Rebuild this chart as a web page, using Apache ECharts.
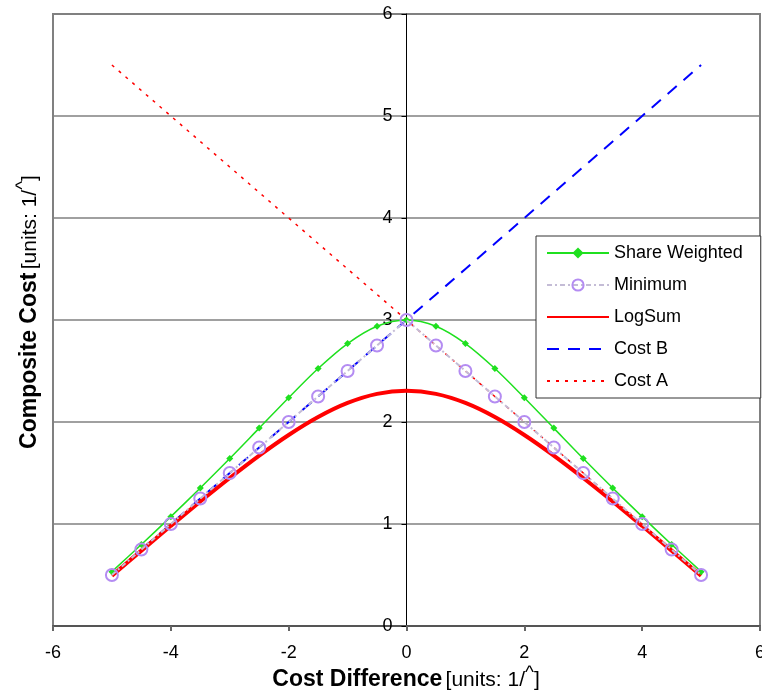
<!DOCTYPE html>
<html>
<head>
<meta charset="utf-8">
<script src="https://cdn.jsdelivr.net/npm/echarts@6/dist/echarts.min.js"></script>
<style>html,body{margin:0;padding:0;background:#fff;overflow:hidden;}#c{width:762px;height:692px;}</style>
</head>
<body>
<div id="c"></div>
<script>
var xs = [-5,-4.5,-4,-3.5,-3,-2.5,-2,-1.5,-1,-0.5,0,0.5,1,1.5,2,2.5,3,3.5,4,4.5,5];
var shareWeighted = [0.533,0.799,1.072,1.353,1.642,1.940,2.238,2.524,2.769,2.939,3.0,2.939,2.769,2.524,2.238,1.940,1.642,1.353,1.072,0.799,0.533];
var minimum = [0.5,0.75,1,1.25,1.5,1.75,2,2.25,2.5,2.75,3,2.75,2.5,2.25,2,1.75,1.5,1.25,1,0.75,0.5];
var logSum = [0.493,0.739,0.982,1.220,1.451,1.671,1.873,2.049,2.187,2.276,2.307,2.276,2.187,2.049,1.873,1.671,1.451,1.220,0.982,0.739,0.493];
var costB = [0.5,0.75,1,1.25,1.5,1.75,2,2.25,2.5,2.75,3,3.25,3.5,3.75,4,4.25,4.5,4.75,5,5.25,5.5];
var costA = [5.5,5.25,5,4.75,4.5,4.25,4,3.75,3.5,3.25,3,2.75,2.5,2.25,2,1.75,1.5,1.25,1,0.75,0.5];
var xTicks = [-6,-4,-2,0,2,4,6];
var yTicks = [0,1,2,3,4,5,6];

function pairs(ys){ return xs.map(function(x,i){ return [x, ys[i]]; }); }

var FONT = '"Liberation Sans", Arial, sans-serif';
var W = 762, H = 692, GL = 53, GR = 2;
var chart = echarts.init(document.getElementById('c'), null, {renderer:'canvas', width: W, height: H});
var plotW = W - GL - GR;
var zeroOffset = -plotW * (0 - xTicks[0]) / (xTicks[xTicks.length-1] - xTicks[0]);
chart.setOption({
  animation: false,
  backgroundColor: '#fff',
  grid: {left: GL, right: GR, top: 14, bottom: 66, show: true, borderColor: '#808080', borderWidth: 2,
         backgroundColor: 'transparent', containLabel: false, outerBoundsMode: 'none'},
  xAxis: {
    type: 'value', min: xTicks[0], max: xTicks[xTicks.length-1], interval: 2,
    axisLine: {show: true, onZero: false, lineStyle: {color: '#555', width: 2}},
    axisTick: {show: true, length: 5, lineStyle: {color: '#666', width: 2}},
    axisLabel: {fontFamily: FONT, fontSize: 18, color: '#000', margin: 18},
    splitLine: {show: false}
  },
  yAxis: {
    type: 'value', min: yTicks[0], max: yTicks[yTicks.length-1], interval: 1,
    position: 'left', offset: zeroOffset,
    axisLine: {show: true, onZero: false, lineStyle: {color: '#000', width: 1}},
    axisTick: {show: true, length: 5, lineStyle: {color: '#000', width: 1}},
    axisLabel: {fontFamily: FONT, fontSize: 18, color: '#000', margin: 14},
    splitLine: {show: true, lineStyle: {color: '#808080', width: 1.5}}
  },
  legend: {
    orient: 'vertical', left: 536, top: 236,
    padding: [8, 18, 8, 10],
    itemWidth: 62, itemHeight: 14, itemGap: 14,
    backgroundColor: '#fff', borderColor: '#333', borderWidth: 1,
    textStyle: {fontFamily: FONT, fontSize: 18, color: '#000'},
    data: [
      {name: 'Share Weighted'},
      {name: 'Minimum'},
      {name: 'LogSum', itemStyle: {opacity: 0}},
      {name: 'Cost B', itemStyle: {opacity: 0}},
      {name: 'Cost A', itemStyle: {opacity: 0}}
    ]
  },
  series: [
    {name: 'Share Weighted', type: 'line', data: pairs(shareWeighted), smooth: 0.3, z: 4,
     symbol: 'diamond', symbolSize: 7, itemStyle: {color: '#1fe01f'},
     lineStyle: {color: '#1fe01f', width: 1.5}},
    {name: 'Minimum', type: 'line', data: pairs(minimum), z: 5,
     symbol: 'circle', symbolSize: 12,
     itemStyle: {color: 'rgba(255,255,255,0)', borderColor: '#b48cf2', borderWidth: 2},
     lineStyle: {color: '#c4bcd6', width: 2, type: [5,3,2,3]}},
    {name: 'LogSum', type: 'line', data: pairs(logSum), smooth: 0.3, z: 3,
     symbol: 'none', itemStyle: {color: '#ff0000'},
     lineStyle: {color: '#ff0000', width: 4}},
    {name: 'Cost B', type: 'line', data: pairs(costB), z: 2,
     symbol: 'none', itemStyle: {color: '#0000ff'},
     lineStyle: {color: '#0000ff', width: 2, type: [12,9]}},
    {name: 'Cost A', type: 'line', data: pairs(costA), z: 2,
     symbol: 'none', itemStyle: {color: '#ff0000'},
     lineStyle: {color: '#ff0000', width: 1.5, type: [3,6]}}
  ],
  graphic: [
    {type: 'text', x: 406, y: 680, z: 10,
     style: {text: '{b|Cost Difference} {n|[units: 1/}{s|^}{n|]}', align: 'center', verticalAlign: 'middle',
       rich: {
         b: {fontFamily: FONT, fontSize: 23, fontWeight: 'bold', fill: '#000'},
         n: {fontFamily: FONT, fontSize: 21, fill: '#000'},
         s: {fontFamily: FONT, fontSize: 19, fill: '#000', padding: [0,0,14,0]}
       }}},
    {type: 'text', x: 30, y: 312, rotation: Math.PI/2, z: 10,
     style: {text: '{b|Composite Cost} {n|[units: 1/}{s|^}{n|]}', align: 'center', verticalAlign: 'middle',
       rich: {
         b: {fontFamily: FONT, fontSize: 23, fontWeight: 'bold', fill: '#000'},
         n: {fontFamily: FONT, fontSize: 21, fill: '#000'},
         s: {fontFamily: FONT, fontSize: 19, fill: '#000', padding: [0,0,14,0]}
       }}}
  ]
});
</script>
</body>
</html>
